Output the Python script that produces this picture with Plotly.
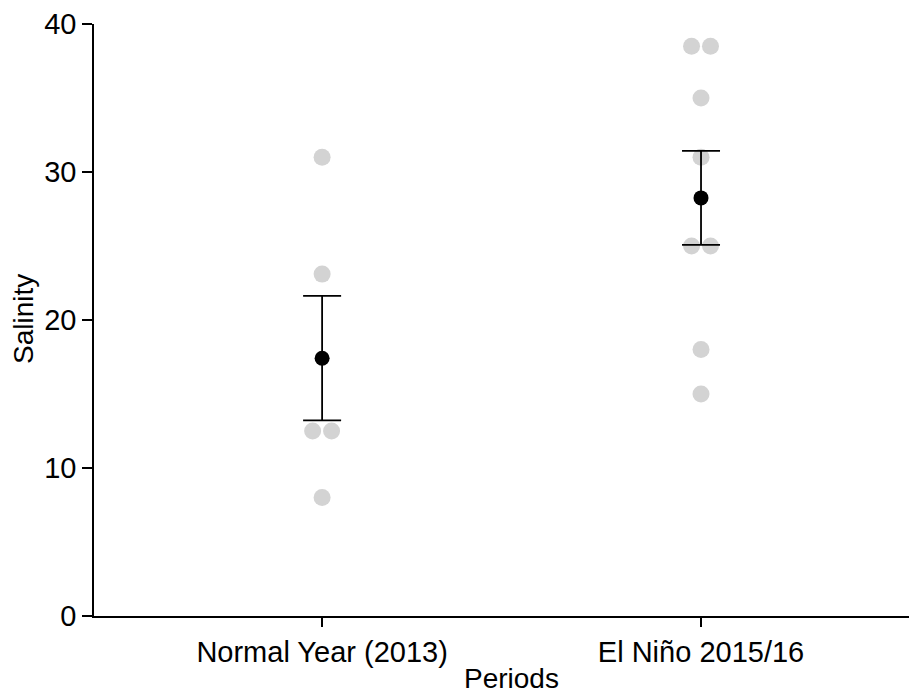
import numpy as np
import plotly.graph_objects as go

categories = ["Normal Year (2013)", "El Niño 2015/16"]
normal_values = [31.0, 23.1, 12.5, 12.5, 8.0]
normal_jitter = [0.0, 0.0, -0.025, 0.025, 0.0]
nino_values = [38.5, 38.5, 35.0, 31.0, 25.0, 25.0, 18.0, 15.0]
nino_jitter = [-0.025, 0.025, 0.0, 0.0, -0.025, 0.025, 0.0, 0.0]
y_ticks = [0, 10, 20, 30, 40]
x_title = "Periods"
y_title = "Salinity"

groups = [normal_values, nino_values]
jitters = [normal_jitter, nino_jitter]
means = [float(np.mean(g)) for g in groups]
ses = [float(np.std(g, ddof=1) / np.sqrt(len(g))) for g in groups]

FONT = "Liberation Sans, Arial, sans-serif"

fig = go.Figure()
for i, (vals, jit) in enumerate(zip(groups, jitters)):
    fig.add_trace(go.Scatter(
        x=[i + 1 + j for j in jit], y=vals, mode="markers",
        marker=dict(color="#d3d3d3", size=17, line=dict(width=0)),
        showlegend=False, hoverinfo="y", cliponaxis=False))

fig.add_trace(go.Scatter(
    x=[1, 2], y=means, mode="markers",
    marker=dict(color="black", size=15),
    error_y=dict(type="data", array=ses, visible=True, color="black",
                 thickness=1.8, width=19),
    showlegend=False))

fig.update_layout(
    width=909, height=690,
    margin=dict(l=86, r=0, t=16, b=82),
    paper_bgcolor="white", plot_bgcolor="white",
    font=dict(family=FONT, size=29, color="black"),
    xaxis=dict(
        range=[0.398, 2.57], tickvals=[1, 2], ticktext=categories,
        showline=True, linecolor="black", linewidth=1.6,
        ticks="outside", ticklen=9, tickwidth=1.6, tickcolor="black",
        showgrid=False, zeroline=False, automargin=False,
        tickfont=dict(family=FONT, size=29),
    ),
    yaxis=dict(
        range=[0, 40], tickvals=y_ticks,
        showline=True, linecolor="black", linewidth=1.6,
        ticks="outside", ticklen=10, tickwidth=1.6, tickcolor="black",
        showgrid=False, zeroline=False, automargin=False,
        tickfont=dict(family=FONT, size=29),
    ),
    annotations=[
        dict(text=x_title, xref="paper", yref="paper", x=0.5067, y=-0.1064,
             xanchor="center", yanchor="middle", showarrow=False, borderpad=0,
             font=dict(family=FONT, size=28, color="black")),
        dict(text=y_title, xref="paper", yref="paper", x=-0.0851, y=0.5017,
             xanchor="center", yanchor="middle", textangle=-90, showarrow=False,
             borderpad=0, font=dict(family=FONT, size=28, color="black")),
    ],
)

fig.write_html("out.html")
